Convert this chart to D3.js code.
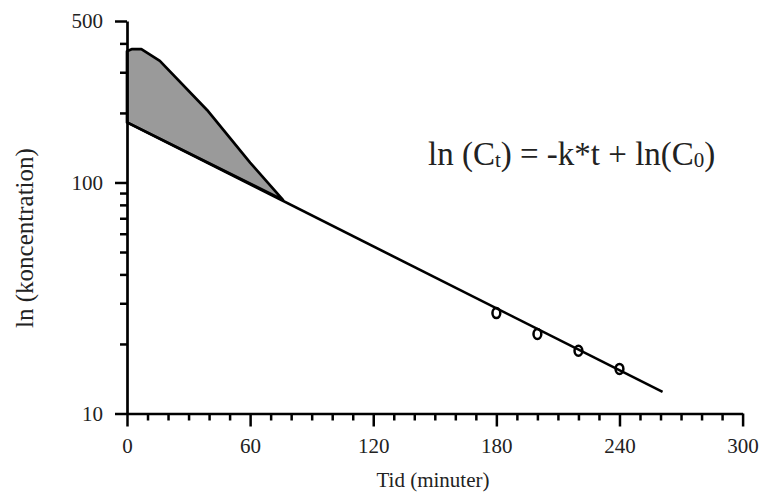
<!DOCTYPE html>
<html><head><meta charset="utf-8">
<script src="https://cdn.jsdelivr.net/npm/d3@7"></script>
<style>
html,body{margin:0;padding:0;background:#fff;}
svg{display:block;}
text{font-family:"Liberation Serif","Times New Roman",serif;fill:#222;}
</style></head>
<body>
<svg id="chart" width="759" height="494"></svg>
<script>
const timeTicks = [0, 60, 120, 180, 240, 300];
const minorTime = [10,20,30,40,50,70,80,90,100,110,130,140,150,160,170,190,200,210,220,230,250,260,270,280,290];
const concTicks = [10, 100, 500];
const minorConc = [20, 30, 40, 50, 60, 70, 80, 90, 200, 300, 400];
const obsTime = [180, 200, 220, 240];
const obsConc = [27.2, 22.1, 18.7, 15.6];
const fitTime = [0, 261];
const fitConc = [182, 12.4];
const curveTime = [0, 2.5, 7, 16, 39, 60, 76];
const curveConc = [370, 378, 378, 336, 206, 122, 84];

const svg = d3.select("#chart");
const x = d3.scaleLinear().domain([0, 300]).range([127, 742.6]);
const y = d3.scaleLog().domain([10, 500]).range([413.5, 21]);

// shaded area
const poly = curveTime.map((t, i) => [x(t), y(curveConc[i])]);
poly.push([x(fitTime[0]), y(fitConc[0])]);
svg.append("path")
  .attr("d", d3.line()(poly) + "Z")
  .attr("fill", "#9a9a9a")
  .attr("stroke", "#000")
  .attr("stroke-width", 2.7)
  .attr("stroke-linejoin", "round");

// fit line
svg.append("path")
  .attr("d", d3.line()(fitTime.map((t, i) => [x(t), y(fitConc[i])])))
  .attr("fill", "none")
  .attr("stroke", "#000")
  .attr("stroke-width", 2.6);

// axes
const xMajor = d3.axisBottom(x).tickValues(timeTicks).tickSize(13).tickFormat(d3.format("d")).tickPadding(12);
const xMinor = d3.axisBottom(x).tickValues(minorTime).tickSize(7).tickFormat("");
const yMajor = d3.axisLeft(y).tickValues(concTicks).tickSize(12).tickFormat(d3.format("d")).tickPadding(12);
const yMinor = d3.axisLeft(y).tickValues(minorConc).tickSize(7).tickFormat("");

function style(g) {
  g.attr("font-family", "Liberation Serif");
  g.selectAll("path.domain").attr("stroke", "#000").attr("stroke-width", 2.7);
  g.selectAll(".tick line").attr("stroke", "#000").attr("stroke-width", 2.5);
  g.selectAll(".tick text").attr("font-size", 21).attr("fill", "#222");
}
const gxm = svg.append("g").attr("transform", "translate(0,413.5)").call(xMinor); style(gxm);
gxm.select("path.domain").remove();
const gx = svg.append("g").attr("transform", "translate(0,413.5)").call(xMajor.tickSizeOuter(0)); style(gx);
const gym = svg.append("g").attr("transform", "translate(127,0)").call(yMinor); style(gym);
gym.select("path.domain").remove();
const gy = svg.append("g").attr("transform", "translate(127,0)").call(yMajor.tickSizeOuter(0)); style(gy);

// observed points
svg.selectAll("ellipse.obs").data(obsTime).enter().append("ellipse")
  .attr("class", "obs")
  .attr("cx", (d) => x(d))
  .attr("cy", (d, i) => y(obsConc[i]))
  .attr("rx", 3.9).attr("ry", 5)
  .attr("fill", "none").attr("stroke", "#000").attr("stroke-width", 2.5);

// axis titles
svg.append("text").attr("x", 433).attr("y", 487).attr("text-anchor", "middle")
  .attr("font-size", 21).text("Tid (minuter)");
svg.append("text").attr("transform", "translate(33,238) rotate(-90)").attr("text-anchor", "middle")
  .attr("font-size", 25).text("ln (koncentration)");

// equation
const eq = svg.append("text").attr("x", 428).attr("y", 165).attr("font-size", 33).attr("fill", "#000");
eq.append("tspan").text("ln (C");
eq.append("tspan").attr("font-size", 21).attr("dy", 2).text("t");
eq.append("tspan").attr("dy", -2).text(") = -k*t + ln(C");
eq.append("tspan").attr("font-size", 21).attr("dy", 2).text("0");
eq.append("tspan").attr("dy", -2).text(")");
</script>
</body></html>
